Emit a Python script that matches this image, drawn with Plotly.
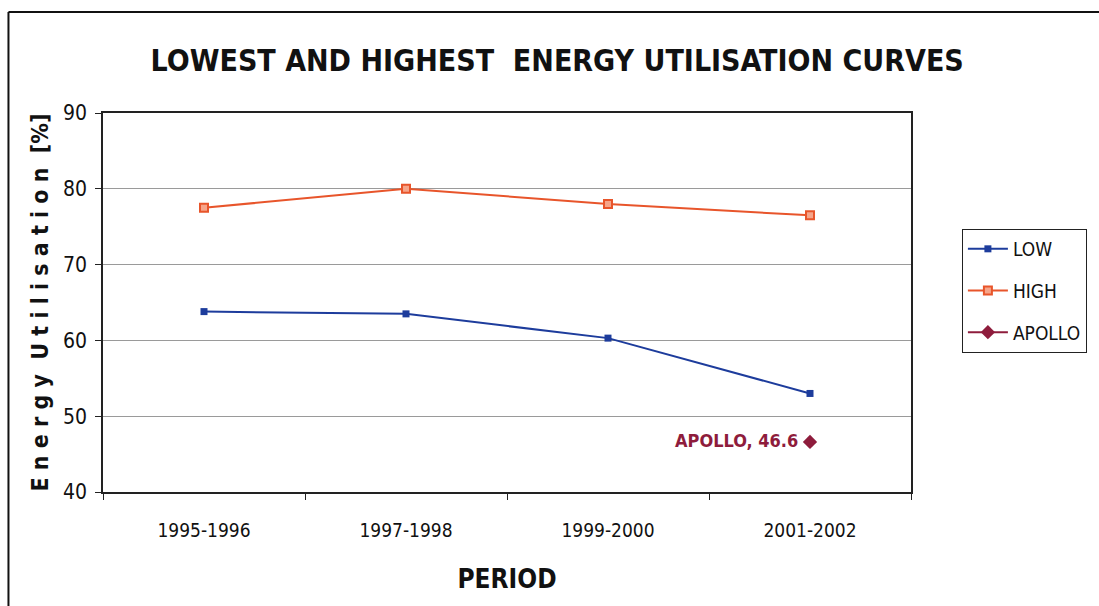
import plotly.graph_objects as go

# Chart data
periods = ["1995-1996", "1997-1998", "1999-2000", "2001-2002"]
low_values = [63.8, 63.5, 60.3, 53.0]
high_values = [77.5, 80.0, 78.0, 76.5]
apollo_period = ["2001-2002"]
apollo_value = [46.6]

NARROW = "DejaVu Sans Condensed, Liberation Sans Narrow, Arial Narrow, sans-serif"

LOW_COLOR = "#1d3c9c"
HIGH_COLOR = "#e8552b"
APOLLO_COLOR = "#8e1c3c"

fig = go.Figure()

fig.add_trace(go.Scatter(
    x=periods, y=low_values, name="LOW", mode="lines+markers", legendgroup="low",
    line=dict(color=LOW_COLOR, width=2),
    marker=dict(symbol="square", size=7, color=LOW_COLOR),
))
fig.add_trace(go.Scatter(
    x=periods, y=high_values, name="HIGH", mode="lines+markers", legendgroup="high",
    line=dict(color=HIGH_COLOR, width=2),
    marker=dict(symbol="square", size=8, color="#f6a58a",
                line=dict(color=HIGH_COLOR, width=2)),
))
fig.add_trace(go.Scatter(
    x=apollo_period, y=apollo_value, name="APOLLO", mode="lines+markers", legendgroup="apollo",
    line=dict(color=APOLLO_COLOR, width=2),
    marker=dict(symbol="diamond", size=11, color=APOLLO_COLOR),
))

fig.add_annotation(
    x=apollo_period[0], y=apollo_value[0],
    text=f"<b>APOLLO, {apollo_value[0]}</b>",
    showarrow=False, xanchor="right", xshift=-10, yshift=1,
    font=dict(family=NARROW, size=18, color=APOLLO_COLOR),
)

# Outer chart frame (top and left edges)
fig.add_shape(type="line", xref="paper", yref="paper",
              x0=-0.117, x1=1.25, y0=1.2665, y1=1.2665,
              line=dict(color="#111111", width=2))
fig.add_shape(type="line", xref="paper", yref="paper",
              x0=-0.117, x1=-0.117, y0=-0.32, y1=1.2665,
              line=dict(color="#111111", width=2))

fig.update_layout(
    width=1099, height=606,
    margin=dict(l=103, r=186, t=113, b=114),
    paper_bgcolor="white", plot_bgcolor="white",
    title=dict(
        text="<b>LOWEST AND HIGHEST  ENERGY UTILISATION CURVES</b>",
        x=0.507, xanchor="center", y=0.9, yanchor="middle",
        font=dict(family=NARROW, size=30, color="#111111"),
    ),
    legend=dict(
        x=1.063, y=0.694, xanchor="left", yanchor="top",
        bordercolor="#222222", borderwidth=1, bgcolor="white",
        font=dict(family=NARROW, size=19, color="#111111"),
        tracegroupgap=14, itemwidth=40,
    ),
    showlegend=True,
)

fig.update_xaxes(
    type="category", tickson="boundaries",
    ticks="outside", ticklen=6, tickcolor="#222222",
    showline=True, linecolor="#222222", linewidth=1.5, mirror=True,
    showgrid=False, ticklabelstandoff=20,
    tickfont=dict(family=NARROW, size=19, color="#111111"),
    title=dict(text="<b>PERIOD</b>", standoff=30,
               font=dict(family=NARROW, size=26, color="#111111")),
    range=[-0.5, 3.5],
)
fig.update_yaxes(
    range=[40, 90], dtick=10,
    ticks="outside", ticklen=6, tickcolor="#222222",
    showline=True, linecolor="#222222", linewidth=1.5, mirror=True,
    showgrid=True, gridcolor="#9a9a9a", gridwidth=1,
    zeroline=False, ticklabelstandoff=4,
    tickfont=dict(family=NARROW, size=21, color="#111111"),
    title=dict(text="<b>E n e r g y  U t i l i s a t i o n  [%]</b>", standoff=8,
               font=dict(family=NARROW, size=23, color="#111111")),
)

fig.write_html("out.html")
